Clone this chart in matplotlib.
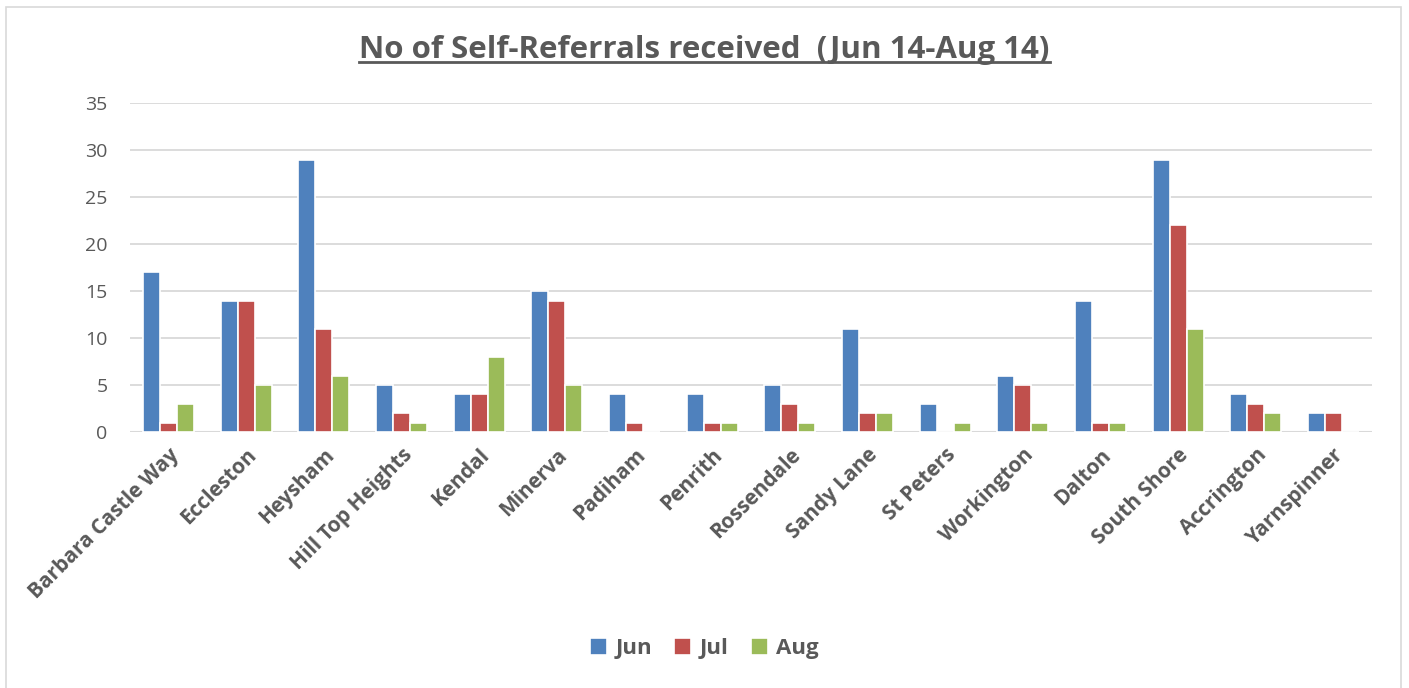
import numpy as np
import matplotlib
matplotlib.use("Agg")
from matplotlib import pyplot as plt
from matplotlib.patches import Rectangle

sites = ["Barbara Castle Way", "Eccleston", "Heysham", "Hill Top Heights", "Kendal",
         "Minerva", "Padiham", "Penrith", "Rossendale", "Sandy Lane", "St Peters",
         "Workington", "Dalton", "South Shore", "Accrington", "Yarnspinner"]
jun = [17, 14, 29, 5, 4, 15, 4, 4, 5, 11, 3, 6, 14, 29, 4, 2]
jul = [1, 14, 11, 2, 4, 14, 1, 1, 3, 2, 0, 5, 1, 22, 3, 2]
aug = [3, 5, 6, 1, 8, 5, 0, 1, 1, 2, 1, 1, 1, 11, 2, 0]
months = ["Jun", "Jul", "Aug"]
colors = ["#4F81BD", "#C0504D", "#9BBB59"]

plt.rcParams['font.family'] = ['Open Sans', 'DejaVu Sans']
text_col = "#595959"

fig = plt.figure(figsize=(14.09, 6.88), dpi=100)
ax = fig.add_axes([0.092, 0.372, 0.882, 0.478])

x = np.arange(len(sites))
w = 0.22
for i, (vals, c, m) in enumerate(zip([jun, jul, aug], colors, months)):
    ax.bar(x + (i - 1) * w, vals, width=w, color=c, edgecolor="white",
           linewidth=1.2, label=m, zorder=3)

ax.set_xlim(-0.5, len(sites) - 0.5)
ax.set_ylim(0, 35)
ax.set_yticks(range(0, 36, 5))
ax.grid(axis="y", color="#D9D9D9", linewidth=1.3, zorder=0)
for s in ax.spines.values():
    s.set_visible(False)
ax.axhline(0, color="#D9D9D9", linewidth=1.5, zorder=2)
ax.tick_params(axis="both", length=0)
ax.tick_params(axis="y", labelsize=14, labelcolor=text_col, pad=16)
ax.set_xticks(x)
ax.set_xticklabels(sites, rotation=45, ha="right", rotation_mode="anchor",
                   fontsize=15, fontweight="bold", color=text_col)
ax.tick_params(axis="x", pad=9)

title = fig.text(0.5, 0.927, "No of Self-Referrals received  (Jun 14-Aug 14)", ha="center",
                 va="center", fontsize=22.5, fontweight="bold", color=text_col)

leg = fig.legend(loc="center", bbox_to_anchor=(0.5, 0.057), ncol=3, frameon=False,
                 prop={"size": 16, "weight": "bold"}, handlelength=0.75, handleheight=0.75,
                 columnspacing=1.0, handletextpad=0.4)
for t in leg.get_texts():
    t.set_color(text_col)

# underline the title across its own width
fig.canvas.draw()
bb = title.get_window_extent().transformed(fig.transFigure.inverted())
fig.add_artist(plt.Line2D([bb.x0, bb.x1], [bb.y0 + 0.004, bb.y0 + 0.004],
                          color=text_col, linewidth=2))

fig.add_artist(Rectangle((0.004, -0.01), 0.99, 1.0, transform=fig.transFigure,
                         fill=False, edgecolor="#D9D9D9", linewidth=1.2))

fig.savefig("out.png", dpi=100)
